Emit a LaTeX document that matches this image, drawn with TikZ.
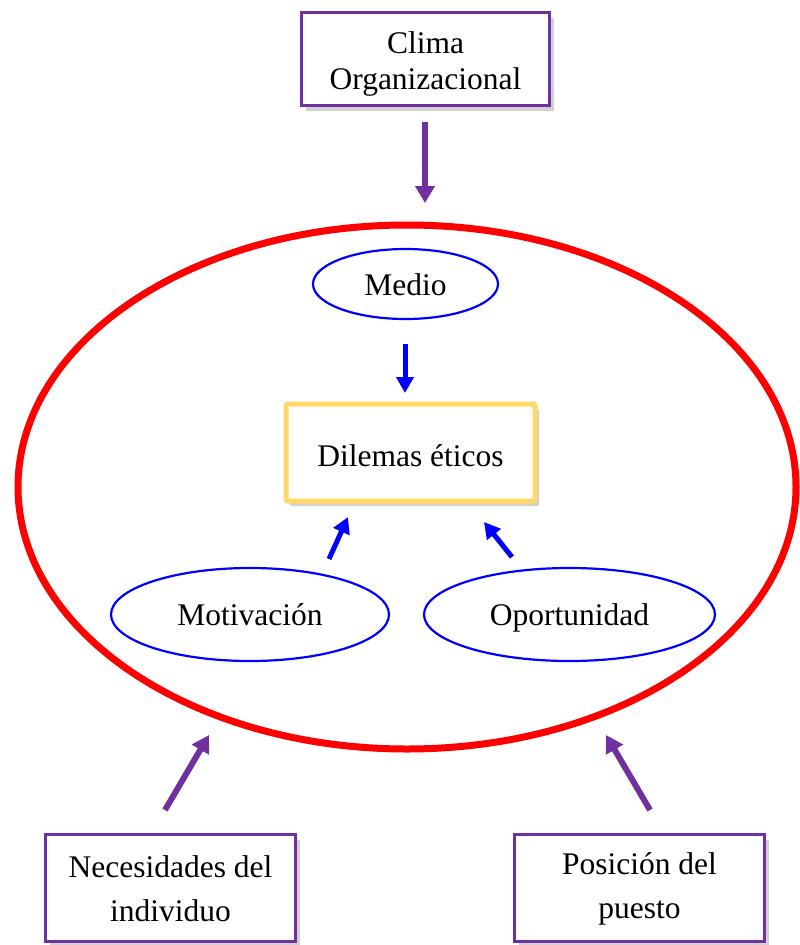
\documentclass[tikz,border=0pt]{standalone}
\usepackage{fontspec}
\setmainfont{Liberation Serif}
\usetikzlibrary{arrows.meta,shapes.geometric,shadows}
\definecolor{purp}{HTML}{7030A0}
\definecolor{yel}{HTML}{FFD966}
\definecolor{blu}{HTML}{0000FF}
\definecolor{red1}{HTML}{FF0000}
\tikzset{
  txt/.style={font=\fontsize{31.5}{36}\selectfont, align=center, text=black, inner sep=0pt},
  shad/.style={drop shadow={shadow xshift=4pt, shadow yshift=-5pt, opacity=0.3, fill=black!60}},
  pbox/.style={draw=purp, line width=3.5pt, fill=white, shad, inner sep=0pt},
  ybox/.style={draw=yel, line width=5pt, fill=white, shad, rounded corners=2pt, inner sep=0pt},
  bell/.style={txt, ellipse, draw=blu, line width=2.2pt, inner sep=0pt, text height=22pt, text depth=0pt},
  parrow/.style={draw=purp, line width=6pt, -{Triangle[width=19pt,length=17pt]}},
  barrow/.style={draw=blu, line width=5pt, -{Triangle[width=17pt,length=16pt]}},
}
\begin{document}
\begin{tikzpicture}[x=1pt,y=-1pt]
\useasboundingbox (0,0) rectangle (800,945);
% big red ellipse
\node[ellipse, draw=red1, line width=7pt, minimum width=778pt, minimum height=524pt, inner sep=0pt] (big) at (407,487) {};
% boxes
\node[pbox, minimum width=248pt, minimum height=93pt] (clima) at (425.5,59) {};
\node[txt] (climat) at ([yshift=-5pt]clima.center) {Clima\\Organizacional};
\node[ybox, minimum width=249pt, minimum height=97pt] (dil) at (410.5,452.5) {};
\node[txt] (dilt) at ([yshift=-3pt]dil.center) {Dilemas éticos};
\node[pbox, minimum width=250pt, minimum height=107pt] (nec) at (170.5,888) {};
\node[txt, font=\fontsize{31.5}{44}\selectfont] (nect) at ([yshift=-1pt]nec.center) {Necesidades del\\individuo};
\node[pbox, minimum width=250pt, minimum height=107pt] (pos) at (639.5,888) {};
\node[txt, font=\fontsize{31.5}{44}\selectfont] (post) at ([yshift=-1pt]pos.center) {Posición del\\puesto};
% ellipses
\node[bell, minimum width=185pt, minimum height=70pt] (medio) at (405.5,284) {Medio};
\node[bell, minimum width=278pt, minimum height=93pt] (mot) at (250,614.5) {Motivación};
\node[bell, minimum width=291pt, minimum height=93pt] (opo) at (569.5,614.5) {Oportunidad};
% arrow coordinates
\coordinate (a1s) at (425,122); \coordinate (a1e) at (425,203);
\coordinate (a2s) at (405,344); \coordinate (a2e) at (405,393);
\coordinate (a3s) at (329,559); \coordinate (a3e) at (348,517);
\coordinate (a4s) at (512,557); \coordinate (a4e) at (484,522);
\coordinate (a5s) at (165,810); \coordinate (a5e) at (209,735);
\coordinate (a6s) at (650,810); \coordinate (a6e) at (606,735);
\draw[parrow] (a1s) -- (a1e);
\draw[barrow] (a2s) -- (a2e);
\draw[barrow] (a3s) -- (a3e);
\draw[barrow] (a4s) -- (a4e);
\draw[parrow] (a5s) -- (a5e);
\draw[parrow] (a6s) -- (a6e);
\end{tikzpicture}
\end{document}
